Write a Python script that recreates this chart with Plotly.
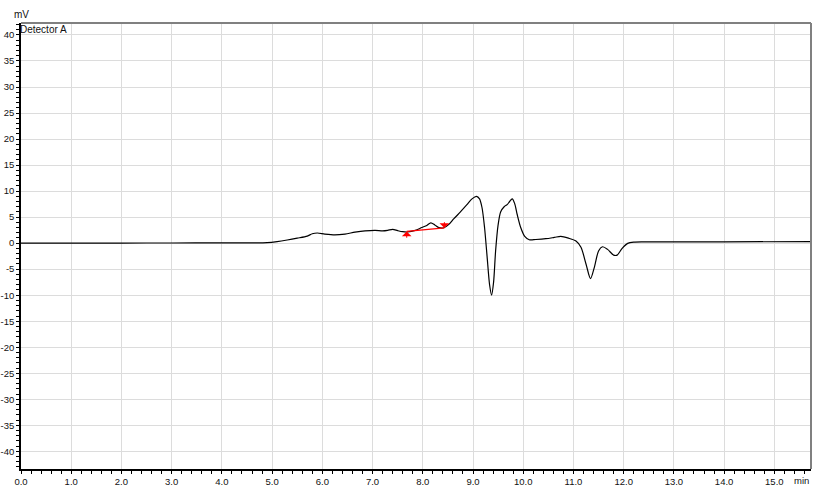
import plotly.graph_objects as go

# Chromatogram trace (time in min, signal in mV)
times = [0.0, 1.0, 2.0, 3.0, 4.0, 4.6, 4.9, 5.1, 5.3, 5.5, 5.7, 5.8, 5.9, 6.05, 6.25,
         6.45, 6.65, 6.85, 7.05, 7.2, 7.3, 7.4, 7.5, 7.6, 7.7, 7.85, 7.98, 8.08, 8.16,
         8.24, 8.32, 8.42, 8.52, 8.62, 8.75, 8.88, 8.98, 9.07, 9.13, 9.18, 9.23, 9.28,
         9.33, 9.37, 9.41, 9.45, 9.5, 9.55, 9.62, 9.68, 9.73, 9.78, 9.83, 9.88, 9.95,
         10.03, 10.12, 10.25, 10.45, 10.62, 10.75, 10.9, 11.05, 11.15, 11.25, 11.34,
         11.42, 11.5, 11.58, 11.68, 11.8, 11.87, 11.97, 12.08, 12.2, 12.4, 13.0, 14.0, 15.75]
signal = [0.0, 0.0, 0.02, 0.03, 0.05, 0.06, 0.1, 0.3, 0.6, 0.95, 1.35, 1.8, 1.95, 1.75, 1.6,
          1.75, 2.1, 2.35, 2.45, 2.35, 2.45, 2.65, 2.4, 2.2, 2.15, 2.45, 3.0, 3.4, 3.9,
          3.5, 3.0, 2.95, 3.6, 4.7, 6.0, 7.4, 8.5, 9.0, 8.5, 6.8, 3.0, -2.5,
          -8.0, -10.0, -7.5, -1.5, 3.5, 6.0, 7.0, 7.4, 8.0, 8.5, 7.6, 5.5, 3.0,
          1.3, 0.65, 0.7, 0.85, 1.1, 1.3, 0.95, 0.4, -0.8, -4.0, -6.8,
          -4.5, -1.5, -0.7, -1.2, -2.3, -2.3, -1.0, -0.05, 0.2, 0.25, 0.25, 0.25, 0.3]

# Integration baseline (peak start / end)
peak_start = (7.68, 2.25)
peak_end = (8.43, 2.92)

x_ticks = [i for i in range(0, 16)]
x_labels = [f"{v:.1f}" for v in x_ticks]
y_ticks = list(range(-40, 41, 5))
y_labels = [str(v) for v in y_ticks]

fig = go.Figure()
fig.add_trace(go.Scatter(x=times, y=signal, mode="lines",
                         line=dict(color="black", width=1.2, shape="spline", smoothing=0.8),
                         hoverinfo="skip"))
fig.add_trace(go.Scatter(x=[peak_start[0], peak_end[0]], y=[peak_start[1], peak_end[1]],
                         mode="lines", line=dict(color="red", width=1.2), hoverinfo="skip"))

# arrows marking start (up) and end (down)
fig.add_annotation(x=peak_start[0], y=peak_start[1], ax=peak_start[0], ay=peak_start[1] - 1.5,
                   xref="x", yref="y", axref="x", ayref="y", showarrow=True, text="",
                   arrowhead=1, arrowsize=1.6, arrowwidth=1, arrowcolor="red")
fig.add_annotation(x=peak_end[0], y=peak_end[1], ax=peak_end[0], ay=peak_end[1] + 1.4,
                   xref="x", yref="y", axref="x", ayref="y", showarrow=True, text="",
                   arrowhead=1, arrowsize=1.6, arrowwidth=1, arrowcolor="red")

font = dict(family="Liberation Sans, Arial, sans-serif", size=10, color="#111111")
tfont = dict(family="Liberation Sans, Arial, sans-serif", size=9.5, color="#111111")

fig.update_layout(
    width=813, height=488,
    margin=dict(l=21, r=2, t=23, b=19),
    paper_bgcolor="white", plot_bgcolor="white",
    showlegend=False,
    font=font,
    xaxis=dict(range=[0, 15.73], tickvals=x_ticks, ticktext=x_labels, automargin=False,
               showgrid=True, gridcolor="#dcdcdc", gridwidth=1,
               zeroline=False, showline=True, linecolor="black", linewidth=1.5,
               ticks="outside", ticklen=3, tickcolor="black", tickwidth=1,
               minor=dict(dtick=0.2, ticks="outside", ticklen=3, tickcolor="black", showgrid=False),
               tickfont=tfont),
    yaxis=dict(range=[-43.4, 42.3], tickvals=y_ticks, ticktext=y_labels, automargin=False,
               showgrid=True, gridcolor="#dcdcdc", gridwidth=1,
               zeroline=False, showline=True, linecolor="black", linewidth=1.5,
               ticks="outside", ticklen=3, tickcolor="black", tickwidth=1,
               minor=dict(dtick=1, ticks="outside", ticklen=3, tickcolor="black", showgrid=False),
               tickfont=tfont),
)

# top and right frame lines
fig.add_shape(type="line", xref="paper", yref="paper", x0=0, x1=1, y0=1, y1=1,
              line=dict(color="#808080", width=2))
fig.add_shape(type="line", xref="paper", yref="paper", x0=1, x1=1, y0=0, y1=1,
              line=dict(color="#808080", width=2))

fig.add_annotation(x=0, y=1, xref="paper", yref="paper", text="mV", showarrow=False,
                   xanchor="center", yanchor="bottom", xshift=0, yshift=1, font=font)
fig.add_annotation(x=0, y=1, xref="paper", yref="paper", text="Detector A", showarrow=False,
                   xanchor="left", yanchor="top", xshift=-3, yshift=1, font=font)
fig.add_annotation(x=1, y=0, xref="paper", yref="paper", text="min", showarrow=False,
                   xanchor="right", yanchor="top", xshift=0, yshift=-4, font=tfont)

fig.write_html("out.html")
